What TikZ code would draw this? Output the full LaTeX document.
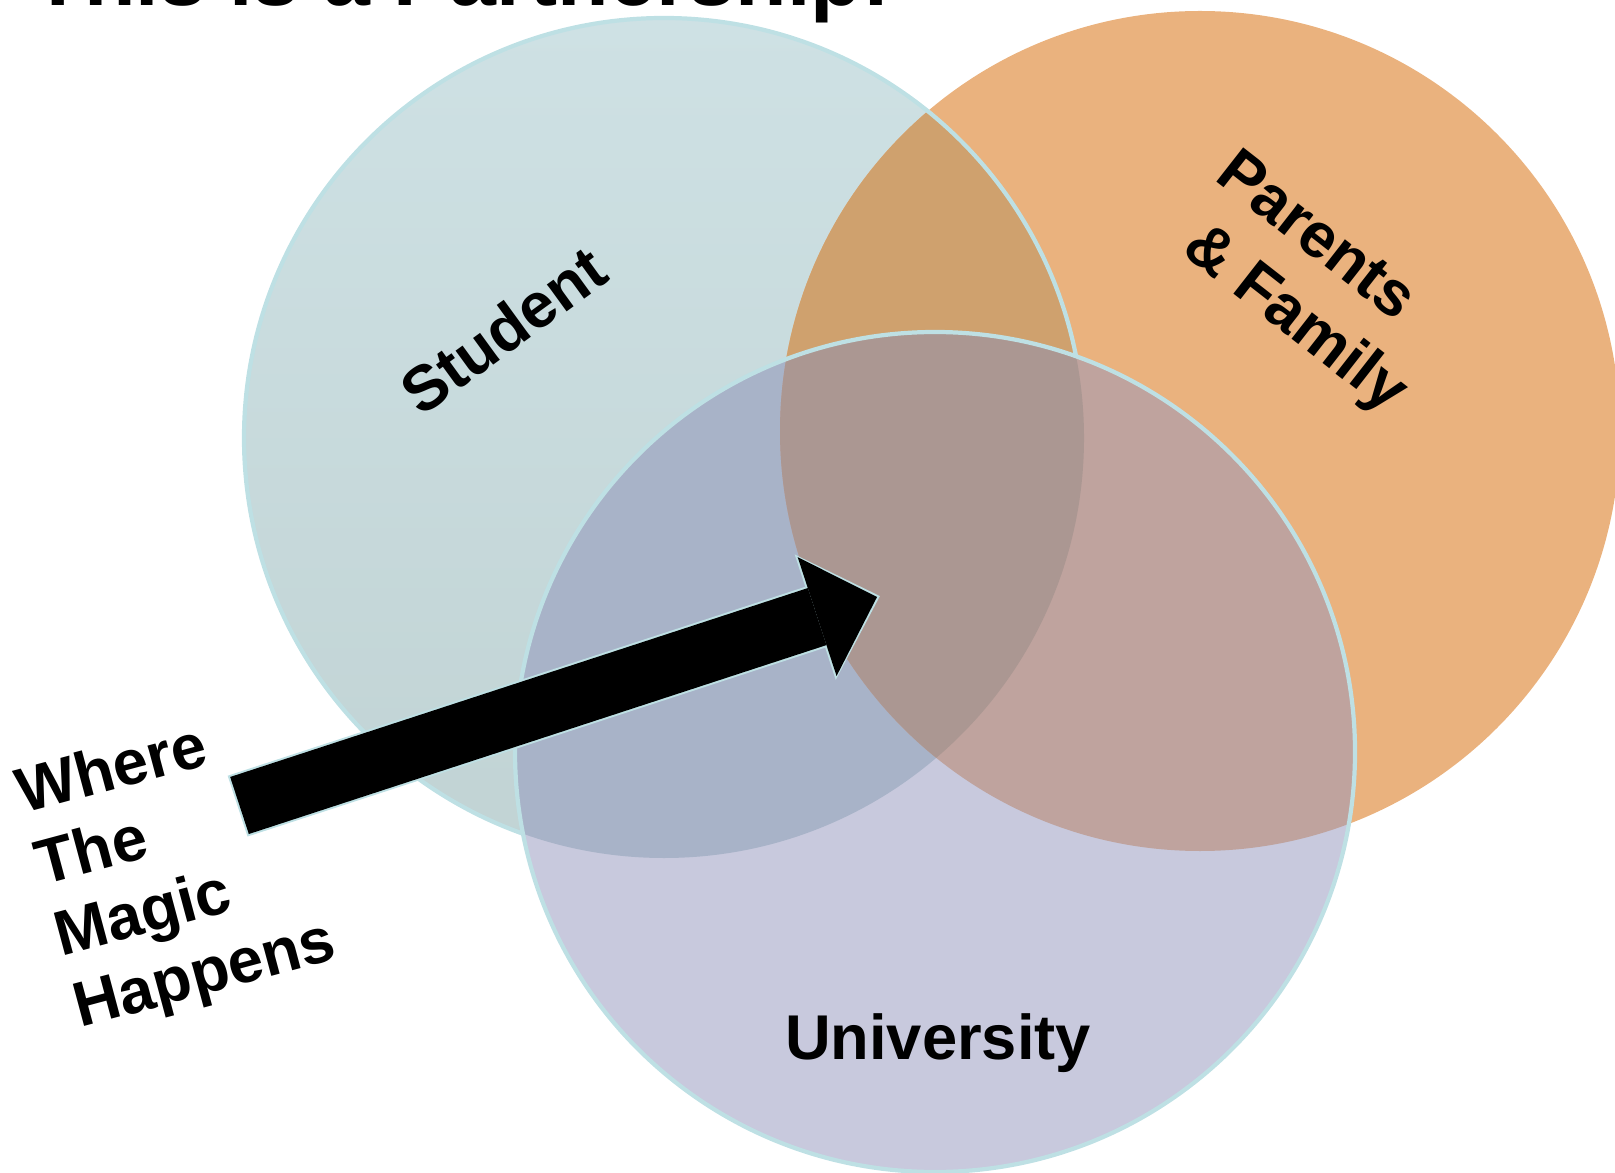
\documentclass[tikz,border=0pt]{standalone}
\usepackage{fontspec}
\setmainfont{Liberation Sans}
\usetikzlibrary{arrows.meta}

\definecolor{studenttop}{HTML}{CEE1E4}
\definecolor{studentbot}{HTML}{C1D3D4}
\definecolor{parentfill}{HTML}{EAB27E}
\definecolor{unifill}{HTML}{C8C9DD}
\definecolor{spfill}{HTML}{CFA16E}
\definecolor{sufill}{HTML}{A8B3C8}
\definecolor{pufill}{HTML}{BFA39E}
\definecolor{allfill}{HTML}{AB9792}
\definecolor{ringline}{HTML}{BEE0E4}

\newcommand{\rad}{4.20}

\tikzset{
  ring/.style={draw=ringline, line width=1.2pt},
  venntext/.style={font=\bfseries\fontsize{18}{22}\selectfont, inner sep=0pt},
  sidetext/.style={font=\bfseries\fontsize{18}{21}\selectfont, inner sep=0pt, align=left},
  bigarrow/.style={black, line width=0.6cm,
    -{Triangle[length=0.63cm,width=1.25cm,line width=0pt]},
    preaction={draw=ringline, line width=0.64cm,
      -{Triangle[length=0.68cm,width=1.32cm,line width=0pt]},
      shorten >=-0.03cm, shorten <=-0.02cm}}
}

\begin{document}
\begin{tikzpicture}
\useasboundingbox (0,0) rectangle (16.15,-11.73);

% circle centres
\coordinate (S) at (6.64,-4.38);
\coordinate (P) at (12.00,-4.31);
\coordinate (U) at (9.35,-7.52);

% student and parents
\shade[top color=studenttop, bottom color=studentbot] (S) circle (\rad);
\fill[parentfill] (P) circle (\rad);
\begin{scope}
  \clip (S) circle (\rad);
  \fill[spfill] (P) circle (\rad);
\end{scope}
\draw[ring] (S) circle (\rad);

% university on top
\fill[unifill] (U) circle (\rad);
\begin{scope}
  \clip (U) circle (\rad);
  \fill[sufill] (S) circle (\rad);
  \fill[pufill] (P) circle (\rad);
  \clip (S) circle (\rad);
  \fill[allfill] (P) circle (\rad);
\end{scope}
\draw[ring] (U) circle (\rad);

% labels
\node[font=\bfseries\fontsize{24}{28}\selectfont, inner sep=0pt, anchor=base west] (title) at (0.32,-0.06) {This is a Partnership!};
\node[venntext, rotate=36] (student) at (5.03,-3.30) {Student};
\node[venntext, rotate=-38, anchor=base west, align=left] (parents) at (11.65,-2.40) {Parents\\\hspace*{0.3em}\& Family};
\node[venntext] (uni) at (9.38,-10.43) {University};
\node[sidetext, rotate=15, anchor=base west] (magic) at (0.80,-10.28) {Where\\The\\Magic\\Happens};

% the arrow
\coordinate (tail) at (2.395,-8.055);
\coordinate (tip) at (8.77,-5.97);
\draw[bigarrow] (tail) -- (tip);
\end{tikzpicture}
\end{document}
